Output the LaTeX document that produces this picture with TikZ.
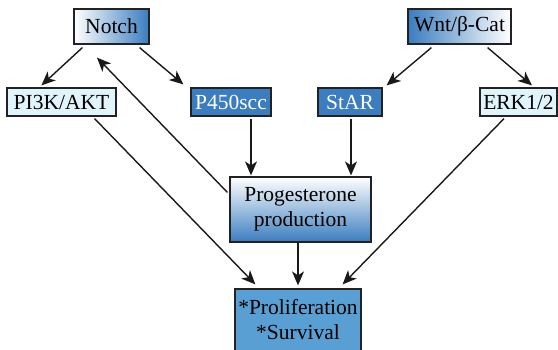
\documentclass[tikz,border=0pt]{standalone}
\usepackage{fontspec}
\setmainfont{Liberation Serif}
\usetikzlibrary{arrows.meta,calc}
\definecolor{bdark}{HTML}{3B7DBF}
\definecolor{bmid}{HTML}{5A9FD4}
\definecolor{blight}{HTML}{E2F4FB}
\definecolor{edge}{HTML}{222222}
\tikzset{
  box/.style={draw=edge, line width=1.2pt, inner sep=0pt, font=\fontsize{21.5}{25}\selectfont, align=center},
  lightbox/.style={box, fill=blight},
  darkbox/.style={box, fill=bdark, text=white},
  conn/.style={draw=black!90, line width=1.4pt, -{Stealth[length=14pt,width=12pt,inset=4pt]}}
}
\begin{document}
\begin{tikzpicture}[x=1pt,y=-1pt]
\useasboundingbox (0,0) rectangle (558,349);
\node[box, left color=white, right color=bdark, minimum width=75pt, minimum height=35pt] (notch) at (111.5,26.5) {Notch};
\node[box, left color=bdark, right color=white, minimum width=103pt, minimum height=35pt] (wnt) at (459.5,26.5) {Wnt/β-Cat};
\node[lightbox, minimum width=109pt, minimum height=28pt] (pik) at (61.5,102) {PI3K/AKT};
\node[darkbox, minimum width=80pt, minimum height=28pt] (p450) at (231,102) {P450scc};
\node[darkbox, minimum width=64pt, minimum height=28pt] (star) at (350,102) {StAR};
\node[lightbox, minimum width=77pt, minimum height=28pt] (erk) at (518.5,102) {ERK1/2};
\node[box, top color=white, bottom color=bdark, minimum width=141pt, minimum height=65pt] (prog) at (300.5,209.5) {Progesterone\\production};
\node[box, fill=bmid, minimum width=126pt, minimum height=62pt] (prol) at (298,320) {*Proliferation\\*Survival};
% connectors
\draw[conn] ([xshift=9pt,yshift=-3pt]notch.south west) -- ([xshift=35pt,yshift=2pt]pik.north west);
\draw[conn] ([xshift=-10pt,yshift=-3pt]notch.south east) -- ([xshift=-7pt,yshift=3pt]p450.north west);
\draw[conn] ([xshift=-2pt,yshift=-16pt]prog.north west) -- ([xshift=-14.5pt,yshift=-13pt]notch.south);
\draw[conn] ([xshift=24pt,yshift=-3pt]wnt.south west) -- ([xshift=4pt,yshift=2pt]star.north east);
\draw[conn] ([xshift=-24pt,yshift=-3pt]wnt.south east) -- ([xshift=13.5pt,yshift=2pt]erk.north);
\draw[conn] ([xshift=20pt,yshift=-2pt]p450.south) -- ([xshift=-49.5pt,yshift=1pt]prog.north);
\draw[conn] ([xshift=1pt,yshift=-2pt]star.south) -- ([xshift=50.5pt,yshift=1pt]prog.north);
\draw[conn] ([xshift=-22pt,yshift=-2pt]pik.south east) -- ([xshift=21pt,yshift=4pt]prol.north west);
\draw[conn] ([xshift=-14.5pt,yshift=-2pt]erk.south) -- ([xshift=-19pt,yshift=4pt]prol.north east);
\draw[conn] ([xshift=-2.5pt,yshift=0pt]prog.south) -- ([xshift=0pt,yshift=3pt]prol.north);
\end{tikzpicture}
\end{document}
